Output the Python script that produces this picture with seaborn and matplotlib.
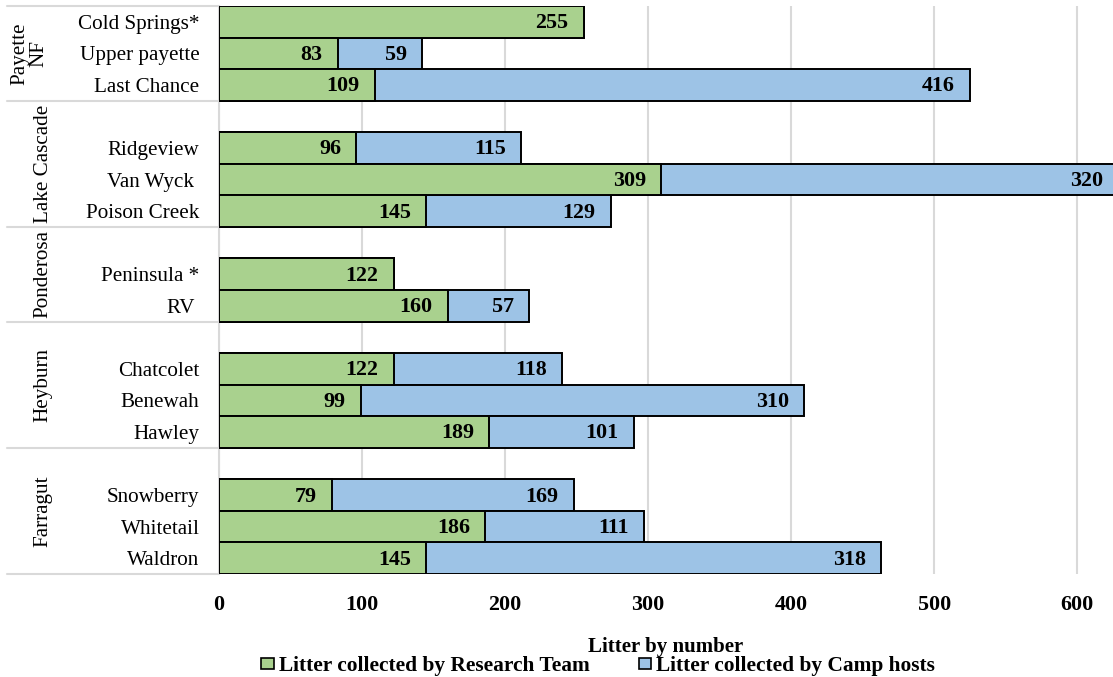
import numpy as np
import pandas as pd
import matplotlib
matplotlib.use("Agg")
import matplotlib.pyplot as plt
from matplotlib.transforms import blended_transform_factory
from matplotlib.patches import Patch
import seaborn as sns

# Campground data, grouped by park (top to bottom)
sites = ["Cold Springs*", "Upper payette", "Last Chance",
         "Ridgeview", "Van Wyck ", "Poison Creek",
         "Peninsula *", "RV ",
         "Chatcolet", "Benewah", "Hawley",
         "Snowberry", "Whitetail", "Waldron"]
parks = ["Payette\nNF"] * 3 + ["Lake Cascade"] * 3 + ["Ponderosa"] * 2 + \
        ["Heyburn"] * 3 + ["Farragut"] * 3
research_team = [255, 83, 109, 96, 309, 145, 122, 160, 122, 99, 189, 79, 186, 145]
camp_hosts = [0, 59, 416, 115, 320, 129, 0, 57, 118, 310, 101, 169, 111, 318]
x_ticks = [0, 100, 200, 300, 400, 500, 600]

GREEN = "#A9D18E"
BLUE = "#9DC3E6"
GRID = "#D9D9D9"

df = pd.DataFrame({"site": sites, "park": parks,
                   "research": research_team, "hosts": camp_hosts})
df["total"] = df["research"] + df["hosts"]

# Category order: an empty slot opens every park after the first
order = []
park_names = list(dict.fromkeys(parks))
for i, p in enumerate(park_names):
    if i > 0:
        order.append(" " * i)
    order.extend(df.loc[df["park"] == p, "site"].tolist())

sns.set_theme(style="white")
plt.rcParams["font.family"] = ["Liberation Serif", "DejaVu Serif"]
plt.rcParams.update({"text.color": "black", "xtick.color": "black",
                     "ytick.color": "black", "axes.labelcolor": "black"})

fig = plt.figure(figsize=(11.13, 6.77), dpi=100)
ax = fig.add_axes([219 / 1113, 1 - 574 / 677, 1 - 219 / 1113, 568 / 677])

# Stacked bars: totals in blue, research-team share over them in green
sns.barplot(data=df, x="total", y="site", order=order, orient="h",
            color=BLUE, edgecolor="black", linewidth=1.4, width=1.0,
            saturation=1, errorbar=None, ax=ax, zorder=3)
sns.barplot(data=df, x="research", y="site", order=order, orient="h",
            color=GREEN, edgecolor="black", linewidth=1.4, width=1.0,
            saturation=1, errorbar=None, ax=ax, zorder=4)

pos = {s: i for i, s in enumerate(order)}
lab_kw = dict(textcoords="offset points", ha="right", va="center",
              fontsize=15.8, fontweight="bold", color="black", zorder=6,
              annotation_clip=False)
for _, r in df.iterrows():
    y = pos[r["site"]]
    ax.annotate(f"{r['research']}", xy=(r["research"], y), xytext=(-11, -1), **lab_kw)
    if r["hosts"] > 0:
        ax.annotate(f"{r['hosts']}", xy=(min(r["total"], 640), y), xytext=(-11, -1), **lab_kw)

ax.set_xlim(0, 625)
ax.set_ylim(len(order) - 0.5, -0.5)
ax.set_xticks(x_ticks)
ax.set_xticklabels([str(t) for t in x_ticks], fontsize=15.8, fontweight="bold")
ax.tick_params(axis="x", length=0, pad=15, colors="black")
ax.tick_params(axis="y", length=0, pad=14, labelsize=15.2, colors="black")
ax.set_ylabel("")
ax.set_xlabel("Litter by number", fontsize=15, fontweight="bold", labelpad=16)
ax.xaxis.grid(True, color=GRID, linewidth=1.5, zorder=0)
ax.yaxis.grid(False)
for side in ["top", "right", "bottom"]:
    ax.spines[side].set_visible(False)
ax.spines["left"].set_color(GRID)
ax.spines["left"].set_linewidth(1.5)
ax.set_axisbelow(True)

# Park group labels and separators on the category axis
trans = blended_transform_factory(fig.transFigure, ax.transData)
bounds = [-0.5]
for p in park_names:
    last = max(pos[s] for s in df.loc[df["park"] == p, "site"])
    bounds.append(last + 0.5)
for b in bounds:
    ax.plot([7 / 1113, 219 / 1113], [b, b], transform=trans, color=GRID,
            linewidth=1.5, clip_on=False)
for i, p in enumerate(park_names):
    yc = (bounds[i] + bounds[i + 1]) / 2
    xc = 29 / 1113 if "\n" in p else 43 / 1113
    ax.text(xc, yc, p, transform=trans, rotation=90, ha="center", va="center",
            fontsize=15.2, linespacing=1.0, color="black")

handles = [Patch(facecolor=GREEN, edgecolor="black", linewidth=1.2),
           Patch(facecolor=BLUE, edgecolor="black", linewidth=1.2)]
fig.legend(handles, ["Litter collected by Research Team", "Litter collected by Camp hosts"],
           loc="center", bbox_to_anchor=(598 / 1113, 1 - 666 / 677), ncol=2,
           frameon=False, handlelength=0.6, handleheight=0.45, handletextpad=0.2,
           columnspacing=2.3, prop={"weight": "bold", "size": 15.4})

fig.savefig("out.png", dpi=100)
